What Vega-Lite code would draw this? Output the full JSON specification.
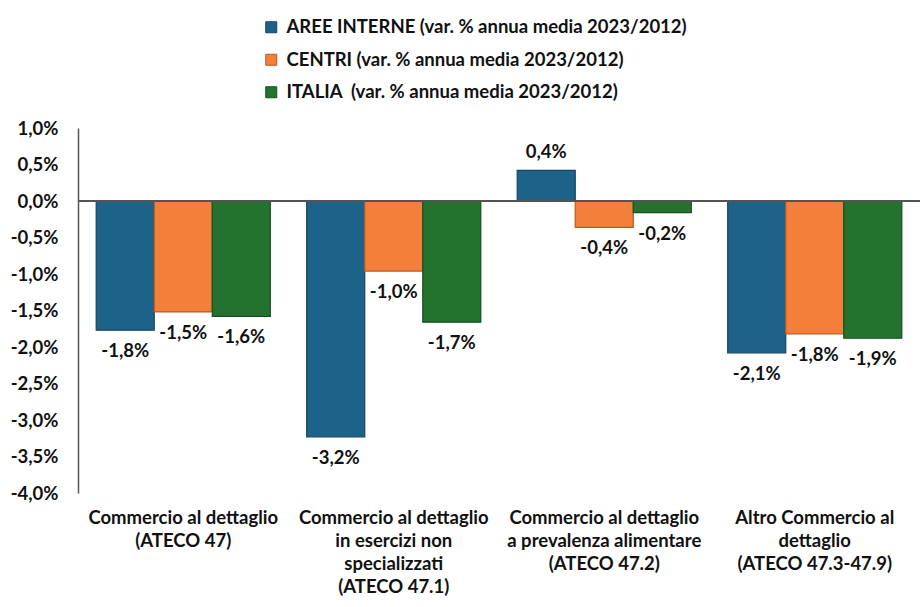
{
  "$schema": "https://vega.github.io/schema/vega-lite/v6.json",
  "autosize": "none",
  "width": 842,
  "height": 365,
  "padding": {"left": 78, "top": 128, "right": 2, "bottom": 114},
  "background": "white",
  "config": {
    "font": "Lato",
    "view": {"stroke": null},
    "text": {"font": "Lato"}
  },
  "data": {
    "values": [
      {"cat": "Commercio al dettaglio|(ATECO 47)", "series": "AREE INTERNE (var. % annua media 2023/2012)", "v": -1.77},
      {"cat": "Commercio al dettaglio|(ATECO 47)", "series": "CENTRI (var. % annua media 2023/2012)", "v": -1.52},
      {"cat": "Commercio al dettaglio|(ATECO 47)", "series": "ITALIA\u00a0 (var. % annua media 2023/2012)", "v": -1.58},
      {"cat": "Commercio al dettaglio|in esercizi non|specializzati|(ATECO 47.1)", "series": "AREE INTERNE (var. % annua media 2023/2012)", "v": -3.23},
      {"cat": "Commercio al dettaglio|in esercizi non|specializzati|(ATECO 47.1)", "series": "CENTRI (var. % annua media 2023/2012)", "v": -0.96},
      {"cat": "Commercio al dettaglio|in esercizi non|specializzati|(ATECO 47.1)", "series": "ITALIA\u00a0 (var. % annua media 2023/2012)", "v": -1.66},
      {"cat": "Commercio al dettaglio|a prevalenza alimentare|(ATECO 47.2)", "series": "AREE INTERNE (var. % annua media 2023/2012)", "v": 0.42},
      {"cat": "Commercio al dettaglio|a prevalenza alimentare|(ATECO 47.2)", "series": "CENTRI (var. % annua media 2023/2012)", "v": -0.36},
      {"cat": "Commercio al dettaglio|a prevalenza alimentare|(ATECO 47.2)", "series": "ITALIA\u00a0 (var. % annua media 2023/2012)", "v": -0.16},
      {"cat": "Altro Commercio al|dettaglio|(ATECO 47.3-47.9)", "series": "AREE INTERNE (var. % annua media 2023/2012)", "v": -2.08},
      {"cat": "Altro Commercio al|dettaglio|(ATECO 47.3-47.9)", "series": "CENTRI (var. % annua media 2023/2012)", "v": -1.82},
      {"cat": "Altro Commercio al|dettaglio|(ATECO 47.3-47.9)", "series": "ITALIA\u00a0 (var. % annua media 2023/2012)", "v": -1.88}
    ]
  },
  "transform": [
    {"calculate": "(datum.v < 0 ? '-' : '') + replace(format(abs(datum.v), '.1f'), '.', ',') + '%'", "as": "lbl"}
  ],
  "encoding": {
    "x": {
      "field": "cat", "type": "nominal", "sort": null,
      "scale": {"paddingInner": 0.173, "paddingOuter": 0.0865},
      "axis": {
        "title": null, "orient": "bottom", "domain": false, "ticks": false,
        "labelAngle": 0, "labelExpr": "split(datum.label, '|')",
        "labelFont": "Lato", "labelFontSize": 18.5, "labelFontWeight": "bold",
        "labelColor": "#111111", "labelPadding": 15, "labelLineHeight": 23,
        "labelLimit": 400, "labelBaseline": "top"
      }
    },
    "xOffset": {"field": "series", "type": "nominal", "sort": null, "scale": {"paddingInner": 0, "paddingOuter": 0}},
    "y": {
      "field": "v", "type": "quantitative",
      "scale": {"domain": [-4, 1], "nice": false, "zero": false},
      "axis": {
        "title": null, "grid": false, "ticks": false, "domain": true,
        "domainColor": "#555555", "domainWidth": 1.5,
        "values": [-4, -3.5, -3, -2.5, -2, -1.5, -1, -0.5, 0, 0.5, 1],
        "labelExpr": "(datum.value < 0 ? '-' : '') + replace(format(abs(datum.value), '.1f'), '.', ',') + '%'",
        "labelFont": "Lato", "labelFontSize": 18.5, "labelFontWeight": "bold",
        "labelColor": "#111111", "labelPadding": 20
      }
    }
  },
  "layer": [
    {
      "mark": {"type": "bar", "strokeWidth": 1.2},
      "encoding": {
        "color": {
          "field": "series", "type": "nominal", "sort": null,
          "scale": {"range": ["#1d6288", "#f47f3a", "#23722e"]},
          "legend": {
            "title": null, "orient": "none", "legendX": 184, "legendY": -110,
            "direction": "vertical", "symbolType": "square", "symbolSize": 121,
            "symbolStrokeWidth": 1, "labelFont": "Lato", "labelFontSize": 18.5,
            "labelFontWeight": "bold", "labelColor": "#111111", "labelLimit": 700,
            "rowPadding": 13.5, "labelOffset": 6
          }
        },
        "stroke": {
          "field": "series", "type": "nominal", "sort": null,
          "scale": {"range": ["#144563", "#b85a22", "#16501f"]},
          "legend": null
        }
      }
    },
    {
      "mark": {"type": "rule", "color": "#555555", "strokeWidth": 1.5},
      "encoding": {"y": {"datum": 0}, "x": null, "xOffset": null}
    },
    {
      "transform": [{"filter": "datum.v < 0"}],
      "mark": {"type": "text", "baseline": "middle", "dy": 21, "fontSize": 18.5, "fontWeight": "bold", "color": "#111111", "font": "Lato"},
      "encoding": {"text": {"field": "lbl"}}
    },
    {
      "transform": [{"filter": "datum.v >= 0"}],
      "mark": {"type": "text", "baseline": "middle", "dy": -18, "fontSize": 18.5, "fontWeight": "bold", "color": "#111111", "font": "Lato"},
      "encoding": {"text": {"field": "lbl"}}
    }
  ]
}
